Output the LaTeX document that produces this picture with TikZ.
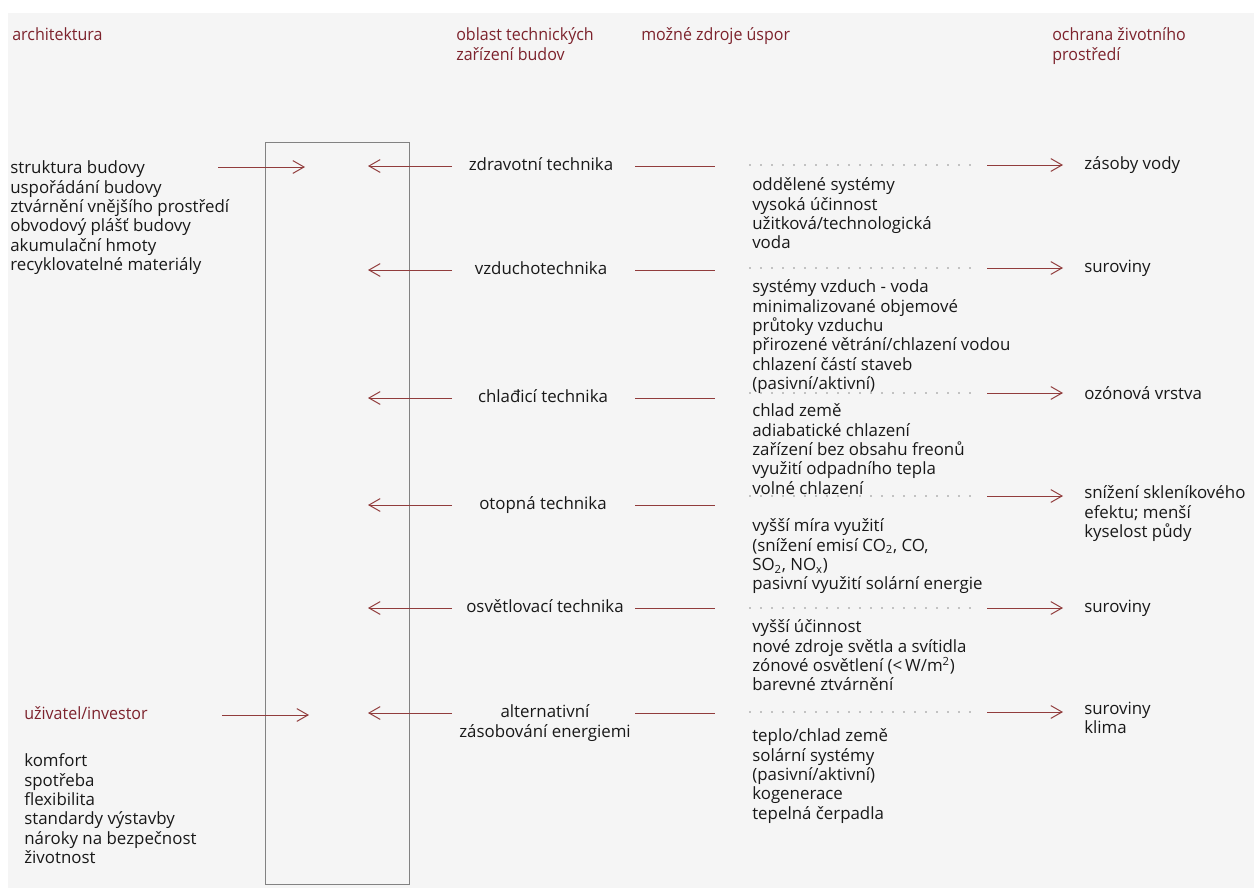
\documentclass[tikz,border=0pt]{standalone}
\usepackage{fontspec}
\setmainfont{Open Sans}
\newfontfamily\headfont{Open Sans}[FakeStretch=0.95]
\usetikzlibrary{arrows.meta, positioning}
\definecolor{headcolor}{RGB}{125,35,45}
\definecolor{arrowcolor}{RGB}{145,60,60}
\definecolor{textcolor}{RGB}{25,25,25}
\definecolor{papercolor}{RGB}{245,245,245}
\definecolor{boxcolor}{RGB}{130,130,130}

\begin{document}
\begin{tikzpicture}[
    x=0.25mm, y=-0.25mm,
    head/.style={anchor=north west, align=left, inner sep=0pt, text=headcolor, font=\headfont\fontsize{12}{14.2}\selectfont},
    list/.style={anchor=north west, align=left, inner sep=0pt, text=textcolor, font=\fontsize{12}{13.8}\selectfont},
    tech/.style={anchor=base, align=center, inner sep=0pt, text=textcolor, font=\fontsize{12}{13.8}\selectfont},
    goal/.style={anchor=base west, align=left, inner sep=0pt, text=textcolor, font=\fontsize{12}{13.8}\selectfont},
    arrow/.style={-{Straight Barb[length=2.8mm, width=3.2mm]}, draw=arrowcolor, line width=0.7pt},
    link/.style={draw=arrowcolor, line width=0.7pt},
    dotline/.style={draw=textcolor, line width=0.8pt, line cap=round, dash pattern=on 0pt off 2.75mm},
]
\useasboundingbox (0,0) rectangle (1254,888);
\fill[papercolor] (8,13) rectangle (1254,888);

% column heads
\node[head] (arch) at (12,27) {architektura};
\node[head] (oblast) at (456,27) {oblast technických\\zařízení budov};
\node[head] (uspory) at (641,27) {možné zdroje úspor};
\node[head] (ochrana) at (1052,27) {ochrana životního\\prostředí};

% building services area
\coordinate (tzbnw) at (265,142);
\coordinate (tzbse) at (409,884);
\draw[boxcolor, line width=0.5pt] (tzbnw) rectangle (tzbse);

% left side
\node[list] (archlist) at (10,160.5) {struktura budovy\\uspořádání budovy\\ztvárnění vnějšího prostředí\\obvodový plášť budovy\\akumulační hmoty\\recyklovatelné materiály};
\node[head, anchor=base west] (user) at (24,719.5) {uživatel/investor};
\node[list] (userlist) at (24,753.5) {komfort\\spotřeba\\flexibilita\\standardy výstavby\\nároky na bezpečnost\\životnost};
\coordinate (archout) at (218,167);
\coordinate (archin) at (305,167);
\coordinate (userout) at (222,715);
\coordinate (userin) at (309,715);
\draw[arrow] (archout) -- (archin);
\draw[arrow] (userout) -- (userin);

% columns of the connectors
\coordinate (tipL) at (368,0);
\coordinate (dashL) at (452,0);
\coordinate (dashA) at (635,0);
\coordinate (dashB) at (715,0);
\coordinate (dotA) at (750,0);
\coordinate (dotB) at (980,0);
\coordinate (arrA) at (987,0);
\coordinate (arrB) at (1063,0);

% technical systems
\node[tech] (zdrav) at (541,170.5) {zdravotní technika};
\node[tech] (vzduch) at (541,274.5) {vzduchotechnika};
\node[tech] (chlad) at (543,402.5) {chlađicí technika};
\node[tech] (otop) at (543,509.5) {otopná technika};
\node[tech] (osvet) at (545,612.5) {osvětlovací technika};
\node[tech, anchor=north] (altern) at (545,704.5) {alternativní\\zásobování energiemi};
\coordinate (zdravrow) at (0,166);
\coordinate (vzduchrow) at (0,270);
\coordinate (chladrow) at (0,398);
\coordinate (otoprow) at (0,505);
\coordinate (osvetrow) at (0,608);
\coordinate (alternrow) at (0,713);

% possible savings
\node[list] (b1) at (752,177.5) {oddělené systémy\\vysoká účinnost\\užitková/technologická\\voda};
\node[list] (b2) at (752,279.5) {systémy vzduch - voda\\minimalizované objemové\\průtoky vzduchu\\přirozené větrání/chlazení vodou\\chlazení částí staveb\\(pasivní/aktivní)};
\node[list] (b3) at (752,403.5) {chlad země\\adiabatické chlazení\\zařízení bez obsahu freonů\\využití odpadního tepla\\volné chlazení};
\node[list] (b4) at (752,518.5) {vyšší míra využití\\(snížení emisí CO\textsubscript{2}, CO,\\SO\textsubscript{2}, NO\textsubscript{x})\\pasivní využití solární energie};
\node[list] (b5) at (752,619.5) {vyšší účinnost\\nové zdroje světla a svítidla\\zónové osvětlení (<\,W/m\textsuperscript{2})\\barevné ztvárnění};
\node[list] (b6) at (752,728.5) {teplo/chlad země\\solární systémy\\(pasivní/aktivní)\\kogenerace\\tepelná čerpadla};

% environment
\node[goal] (voda) at (1084,169.5) {zásoby vody};
\node[goal] (surov1) at (1084,272.5) {suroviny};
\node[goal] (ozon) at (1084,399.5) {ozónová vrstva};
\node[list] (sklen) at (1084,485.5) {snížení skleníkového\\efektu; menší\\kyselost půdy};
\node[goal] (surov2) at (1084,612.5) {suroviny};
\node[list] (klima) at (1084,701.5) {suroviny\\klima};
\coordinate (vodarow) at (0,165);
\coordinate (surov1row) at (0,268);
\coordinate (ozonrow) at (0,393);
\coordinate (sklenrow) at (0,496);
\coordinate (surov2row) at (0,608);
\coordinate (klimarow) at (0,712);

\draw[arrow] (zdravrow -| dashL) -- (zdravrow -| tipL);
\draw[link] (zdravrow -| dashA) -- (zdravrow -| dashB);
\draw[dotline] (vodarow -| dotA) -- (vodarow -| dotB);
\draw[arrow] (vodarow -| arrA) -- (vodarow -| arrB);

\draw[arrow] (vzduchrow -| dashL) -- (vzduchrow -| tipL);
\draw[link] (vzduchrow -| dashA) -- (vzduchrow -| dashB);
\draw[dotline] (surov1row -| dotA) -- (surov1row -| dotB);
\draw[arrow] (surov1row -| arrA) -- (surov1row -| arrB);

\draw[arrow] (chladrow -| dashL) -- (chladrow -| tipL);
\draw[link] (chladrow -| dashA) -- (chladrow -| dashB);
\draw[dotline] (ozonrow -| dotA) -- (ozonrow -| dotB);
\draw[arrow] (ozonrow -| arrA) -- (ozonrow -| arrB);

\draw[arrow] (otoprow -| dashL) -- (otoprow -| tipL);
\draw[link] (otoprow -| dashA) -- (otoprow -| dashB);
\draw[dotline] (sklenrow -| dotA) -- (sklenrow -| dotB);
\draw[arrow] (sklenrow -| arrA) -- (sklenrow -| arrB);

\draw[arrow] (osvetrow -| dashL) -- (osvetrow -| tipL);
\draw[link] (osvetrow -| dashA) -- (osvetrow -| dashB);
\draw[dotline] (surov2row -| dotA) -- (surov2row -| dotB);
\draw[arrow] (surov2row -| arrA) -- (surov2row -| arrB);

\draw[arrow] (alternrow -| dashL) -- (alternrow -| tipL);
\draw[link] (alternrow -| dashA) -- (alternrow -| dashB);
\draw[dotline] (klimarow -| dotA) -- (klimarow -| dotB);
\draw[arrow] (klimarow -| arrA) -- (klimarow -| arrB);

\end{tikzpicture}
\end{document}
